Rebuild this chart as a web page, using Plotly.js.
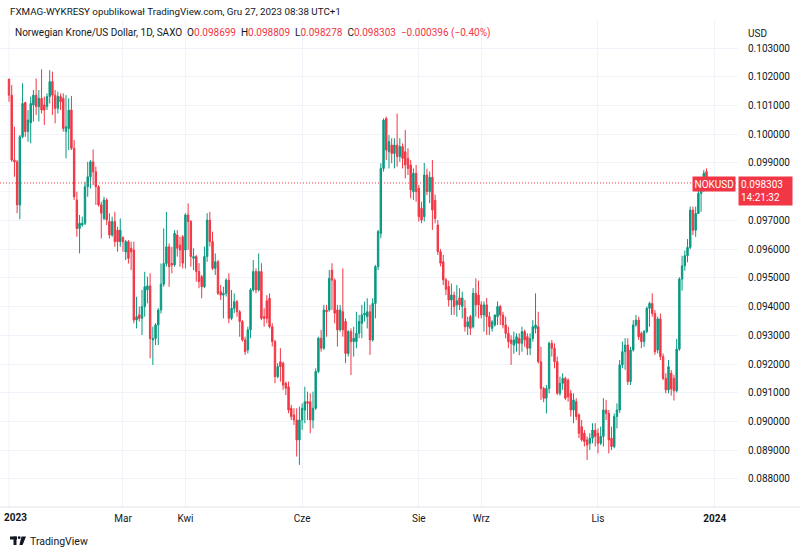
<!DOCTYPE html>
<html>
<head>
<meta charset="utf-8">
<script src="https://cdn.plot.ly/plotly-3.0.1.min.js"></script>
<style>
html,body{margin:0;padding:0;background:#ffffff;}
#chart{width:800px;height:553px;}
</style>
</head>
<body>
<div id="chart"></div>
<script>
// ---- DATA (NOK/USD daily, SAXO, 2023) ----
const firstDay = '2023-01-02';
const barCount = 258;

const openP = [
.10191,.10136,.09910,.09904,.09754,.09991,.10110,.10009,.10040,.10102,
.10136,.10096,.10125,.10102,.10096,.10131,.10183,.10136,.10090,.10131,
.10125,.10009,.10020,.10084,.09951,.09771,.09672,.09684,.09690,.09817,
.09852,.09904,.09869,.09817,.09754,.09707,.09771,.09696,.09649,.09696,
.09666,.09626,.09640,.09590,.09626,.09603,.09597,.09353,.09371,.09359,
.09400,.09458,.09472,.09284,.09289,.09336,.09388,.09478,.09550,.09608,
.09550,.09545,.09649,
.09614,.09643,.09597,.09719,.09696,.09568,.09574,
.09522,.09504,.09469,.09574,.09701,.09626,.09533,.09556,.09452,.09440,
.09446,.09492,.09359,.09394,.09417,.09382,.09348,.09284,.09249,.09319,
.09458,.09522,.09458,.09522,.09365,.09420,.09429,.09330,.09278,.09156,
.09208,.09203,.09133,.09121,.09046,.09023,.09005,.08936,.09005,.09040,
.09069,.09069,.09005,.09046,.09174,.09290,.09255,.09388,.09388,.09527,
.09492,.09388,.09319,.09382,.09348,.09237,.09313,.09278,
.09278,.09307,.09342,.09371,.09365,.09382,.09284,.09411,.09539,.09655,
.09881,.10055,.09939,.09962,.09933,.09962,.09922,.09957,.09939,.09916,
.09893,.09800,.09864,.09812,.09742,.09713,.09858,.09800,.09850,.09770,
.09684,.09591,.09556,.09493,.09470,.09423,.09440,.09406,.09430,.09400,
.09394,.09330,.09365,.09330,.09446,.09440,.09406,.09371,.09406,.09365,
.09324,.09336,.09365,.09400,.09371,.09336,.09307,.09284,.09266,.09272,
.09289,.09272,.09313,.09295,.09255,.09289,.09324,
.09330,.09208,.09115,.09081,.09115,.09272,.09255,.09208,.09098,.09133,
.09150,.09144,.09098,.09040,.09069,.09023,.08982,.08959,.08936,.08924,
.08942,.08970,.08959,.08924,.08948,.09040,.09028,.08942,.08913,.09017,
.09040,.09197,.09243,.09266,.09139,.09249,.09336,.09353,.09307,.09278,
.09313,.09394,.09411,.09376,.09249,.09357,.09226,.09150,.09110,.09168,
.09150,.09107,.09252,.09496,.09542,.09577,.09606,.09736,.09666,.09724,
.09794,.09806,.098699
];

const highP = [
.10194,.10171,.10026,.09910,.09997,.10177,.10113,.10084,.10131,.10154,
.10194,.10154,.10226,.10131,.10142,.10223,.10218,.10154,.10148,.10142,
.10142,.10136,.10125,.10133,.09980,.09800,.09719,.09713,.09835,.09904,
.09910,.09947,.09887,.09823,.09765,.09782,.09777,.09725,.09713,.09730,
.09678,.09707,.09645,.09632,.09632,.09626,.09626,.09434,.09400,.09458,
.09521,.09504,.09516,.09330,.09342,.09394,.09550,.09672,.09730,.09620,
.09608,.09666,.09666,
.09643,.09649,.09725,.09759,.09701,.09603,.09580,
.09551,.09510,.09609,.09725,.09730,.09661,.09585,.09562,.09475,.09469,
.09498,.09516,.09458,.09446,.09423,.09388,.09353,.09295,.09330,.09464,
.09562,.09533,.09585,.09551,.09394,.09440,.09446,.09342,.09284,.09203,
.09255,.09208,.09139,.09139,.09058,.09046,.09046,.09052,.09063,.09121,
.09104,.09098,.09104,.09185,.09295,.09319,.09406,.09406,.09527,.09551,
.09498,.09406,.09406,.09533,.09359,.09319,.09324,.09330,
.09382,.09371,.09406,.09417,.09429,.09406,.09429,.09545,.09667,.09899,
.10055,.10061,.09997,.09986,.09986,.10072,.09986,.09968,.10015,.09951,
.09910,.09881,.09893,.09823,.09765,.09900,.09880,.09870,.09910,.09790,
.09701,.09600,.09580,.09500,.09490,.09480,.09452,.09475,.09464,.09452,
.09423,.09365,.09371,.09464,.09498,.09490,.09418,.09418,.09430,.09382,
.09353,.09371,.09418,.09406,.09382,.09365,.09330,.09300,.09313,.09307,
.09307,.09330,.09320,.09307,.09307,.09353,.09446,
.09382,.09260,.09121,.09127,.09278,.09284,.09272,.09226,.09156,.09168,
.09156,.09150,.09110,.09098,.09081,.09028,.09005,.08970,.08948,.08959,
.08994,.08994,.08976,.08982,.09081,.09075,.09040,.08982,.09028,.09063,
.09214,.09278,.09290,.09290,.09260,.09353,.09371,.09365,.09313,.09319,
.09400,.09417,.09446,.09388,.09365,.09376,.09237,.09168,.09214,.09179,
.09162,.09287,.09502,.09577,.09595,.09635,.09748,.09748,.09748,.09805,
.09840,.09875,.098809
];

const lowP = [
.10113,.09904,.09852,.09725,.09704,.09986,.09991,.09974,.09968,.10044,
.10067,.10044,.10072,.10032,.10084,.10107,.10067,.10038,.10072,.10084,
.10009,.09916,.09945,.09945,.09771,.09643,.09585,.09678,.09684,.09782,
.09811,.09823,.09754,.09748,.09637,.09701,.09684,.09637,.09643,.09608,
.09591,.09608,.09591,.09562,.09550,.09527,.09342,.09324,.09348,.09301,
.09365,.09411,.09220,.09197,.09266,.09266,.09376,.09469,.09539,.09469,
.09516,.09539,.09574,
.09539,.09533,.09533,.09597,.09539,.09527,.09487,
.09464,.09429,.09464,.09556,.09609,.09527,.09510,.09440,.09423,.09359,
.09435,.09342,.09353,.09377,.09365,.09295,.09278,.09232,.09237,.09290,
.09452,.09446,.09452,.09353,.09330,.09342,.09324,.09261,.09133,.09150,
.09139,.09110,.09092,.09029,.09005,.08988,.08878,.08849,.08971,.08994,
.09005,.08959,.08976,.09040,.09168,.09243,.09249,.09295,.09382,.09388,
.09342,.09261,.09313,.09295,.09203,.09226,.09162,.09226,
.09255,.09290,.09290,.09348,.09324,.09232,.09278,.09359,.09527,.09638,
.09870,.09910,.09881,.09899,.09881,.09887,.09904,.09881,.09846,.09858,
.09777,.09771,.09765,.09696,.09690,.09696,.09788,.09760,.09667,.09690,
.09580,.09540,.09475,.09440,.09400,.09371,.09371,.09365,.09388,.09359,
.09313,.09301,.09301,.09324,.09365,.09359,.09359,.09313,.09301,.09301,
.09313,.09330,.09336,.09336,.09324,.09289,.09255,.09197,.09236,.09243,
.09231,.09243,.09260,.09231,.09231,.09278,.09307,
.09202,.09075,.09067,.09028,.09098,.09226,.09185,.09092,.09090,.09110,
.09075,.09069,.09017,.08994,.09005,.08942,.08930,.08913,.08866,.08901,
.08924,.08913,.08889,.08918,.08913,.09005,.08889,.08901,.08907,.08976,
.09030,.09185,.09180,.09127,.09127,.09243,.09330,.09284,.09255,.09260,
.09307,.09330,.09365,.09232,.09237,.09214,.09144,.09098,.09098,.09090,
.09073,.09101,.09246,.09455,.09525,.09554,.09600,.09649,.09643,.09724,
.09730,.09800,.098278
];

const closeP = [
.10136,.09910,.09904,.09754,.09991,.10107,.10009,.10049,.10107,.10136,
.10096,.10125,.10084,.10084,.10131,.10183,.10136,.10090,.10131,.10113,
.10020,.10026,.10084,.09951,.09782,.09672,.09690,.09690,.09817,.09852,
.09904,.09869,.09817,.09754,.09725,.09771,.09701,.09649,.09696,.09626,
.09626,.09666,.09626,.09626,.09568,.09591,.09353,.09365,.09359,.09400,
.09469,.09472,.09289,.09289,.09336,.09388,.09478,.09550,.09608,.09539,
.09545,.09655,.09603,
.09597,.09551,.09719,.09696,.09574,.09574,.09522,
.09487,.09469,.09574,.09701,.09626,.09533,.09556,.09446,.09440,.09446,
.09492,.09359,.09394,.09417,.09382,.09348,.09284,.09243,.09319,.09458,
.09522,.09458,.09522,.09359,.09359,.09359,.09330,.09278,.09156,.09191,
.09191,.09127,.09116,.09040,.09017,.09005,.08936,.09005,.09046,.09069,
.09063,.09005,.09046,.09174,.09290,.09255,.09388,.09382,.09498,.09492,
.09377,.09319,.09388,.09319,.09237,.09313,.09278,.09290,
.09307,.09348,.09371,.09377,.09382,.09284,.09411,.09539,.09661,.09881,
.10049,.09945,.09974,.09933,.09962,.09922,.09957,.09916,.09893,.09881,
.09806,.09864,.09800,.09713,.09701,.09858,.09800,.09850,.09736,.09707,
.09591,.09551,.09493,.09460,.09423,.09440,.09400,.09420,.09406,.09430,
.09330,.09347,.09324,.09446,.09406,.09406,.09371,.09406,.09365,.09330,
.09347,.09371,.09400,.09371,.09336,.09307,.09278,.09272,.09284,.09295,
.09272,.09313,.09284,.09255,.09289,.09330,.09336,
.09208,.09115,.09081,.09115,.09272,.09255,.09208,.09098,.09133,.09150,
.09081,.09086,.09040,.09075,.09017,.08959,.08936,.08930,.08918,.08942,
.08970,.08948,.08924,.08948,.09040,.09028,.08936,.08913,.09017,.09040,
.09197,.09243,.09266,.09139,.09249,.09336,.09353,.09295,.09278,.09313,
.09394,.09411,.09376,.09243,.09357,.09226,.09150,.09110,.09191,.09113,
.09107,.09252,.09496,.09542,.09577,.09606,.09736,.09666,.09724,.09794,
.09806,.09864,.098303
];

const tickDates  = ['2023-03-01','2023-04-03','2023-06-01','2023-08-01','2023-09-01','2023-11-01','2024-01-01'];
const tickLabels = ['Mar','Kwi','Cze','Sie','Wrz','Lis','<b>2024</b>'];
const yearStartLabel = '<b>2023</b>';
const priceTicks = [0.088,0.089,0.090,0.091,0.092,0.093,0.094,0.095,0.096,0.097,0.099,0.100,0.101,0.102,0.103];
const lastPrice = 0.098303;

// ---- build business-day dates (categories) ----
function businessDays(start, n){
  const out = [];
  const d = new Date(start + 'T00:00:00Z');
  while(out.length < n){
    const wd = d.getUTCDay();
    if(wd !== 0 && wd !== 6) out.push(d.toISOString().slice(0,10));
    d.setUTCDate(d.getUTCDate()+1);
  }
  return out;
}
const dates = businessDays(firstDay, barCount);

// ---- layout helpers (pixel -> paper) ----
const PL = 0, PR = 738, PT = 20, PB = 507;
const px = x => (x - PL) / (PR - PL);
const py = y => (PB - y) / (PB - PT);

const UP = '#089981', DOWN = '#f23645', TXT = '#131722', GRID = '#f0f3fa';
const FONT = 'Roboto, "Liberation Sans", sans-serif';

const trace = {
  type: 'candlestick',
  x: dates, open: openP, high: highP, low: lowP, close: closeP,
  increasing: {line: {color: UP, width: 1}, fillcolor: UP},
  decreasing: {line: {color: DOWN, width: 1}, fillcolor: DOWN},
  whiskerwidth: 0,
  hoverinfo: 'skip',
  showlegend: false
};

const red = s => '<span style="color:' + DOWN + '">' + s + '</span>';

const layout = {
  width: 800, height: 553,
  margin: {l: PL, r: 800 - PR, t: PT, b: 553 - PB, pad: 0},
  paper_bgcolor: '#ffffff', plot_bgcolor: '#ffffff',
  font: {family: FONT, size: 10, color: TXT},
  showlegend: false,
  boxgap: 0.25,
  xaxis: {
    type: 'date',
    range: ['2022-12-27 16:25', '2024-01-11 14:24'],
    rangebreaks: [{bounds: ['sat', 'mon']}],
    rangeslider: {visible: false},
    tickmode: 'array', tickvals: tickDates, ticktext: tickLabels,
    showgrid: true, gridcolor: GRID, gridwidth: 1,
    zeroline: false, ticks: '',
    showline: false,
    tickfont: {family: FONT, size: 10, color: TXT},
    ticklabelstandoff: 4,
    fixedrange: true
  },
  yaxis: {
    side: 'right',
    range: [0.087024, 0.103975],
    tickmode: 'array', tickvals: priceTicks, tickformat: '.6f',
    showgrid: true, gridcolor: GRID, gridwidth: 1,
    zeroline: false, ticks: '', showline: false,
    tickfont: {family: FONT, size: 10, color: TXT},
    ticklabelstandoff: 9,
    fixedrange: true
  },
  shapes: [
    {type: 'line', xref: 'paper', yref: 'y', x0: 0, x1: 1, y0: 0.098, y1: 0.098,
     line: {color: GRID, width: 1}, layer: 'below'},
    {type: 'line', xref: 'x', yref: 'paper', x0: '2023-01-02', x1: '2023-01-02', y0: 0, y1: 1,
     line: {color: GRID, width: 1}, layer: 'below'},
    {type: 'line', xref: 'paper', yref: 'y', x0: 0, x1: 1, y0: lastPrice, y1: lastPrice,
     line: {color: DOWN, width: 1, dash: '1px,2px'}},
    {type: 'line', xref: 'paper', yref: 'paper', x0: px(0), x1: px(800), y0: py(507), y1: py(507),
     line: {color: '#e0e3eb', width: 1}},
    // TradingView logo glyph
    {type: 'rect', xref: 'paper', yref: 'paper', x0: px(10), x1: px(17), y0: py(536.5), y1: py(539.5),
     fillcolor: TXT, line: {width: 0}},
    {type: 'rect', xref: 'paper', yref: 'paper', x0: px(13.5), x1: px(16.5), y0: py(536.5), y1: py(545),
     fillcolor: TXT, line: {width: 0}},
    {type: 'circle', xref: 'paper', yref: 'paper', x0: px(17.8), x1: px(20.6), y0: py(536.3), y1: py(539.1),
     fillcolor: TXT, line: {width: 0}},
    {type: 'path', xref: 'paper', yref: 'paper',
     path: 'M ' + px(21.5) + ' ' + py(536.5) + ' L ' + px(26) + ' ' + py(536.5) + ' L ' + px(22.6) + ' ' + py(545) +
           ' L ' + px(19.4) + ' ' + py(545) + ' Z',
     fillcolor: TXT, line: {width: 0}}
  ],
  annotations: [
    {xref: 'paper', yref: 'paper', x: px(8), y: py(12), xanchor: 'left', yanchor: 'middle', showarrow: false,
     text: 'FXMAG-WYKRESY opublikował TradingView.com, Gru 27, 2023 08:38 UTC+1',
     font: {family: FONT, size: 9.8, color: TXT}},
    {xref: 'paper', yref: 'paper', x: px(13), y: py(33), xanchor: 'left', yanchor: 'middle', showarrow: false,
     text: 'Norwegian Krone/US Dollar, 1D, SAXO&nbsp;&nbsp;O' + red('0.098699') + '&nbsp;&nbsp;H' + red('0.098809') +
           '&nbsp;&nbsp;L' + red('0.098278') + '&nbsp;&nbsp;C' + red('0.098303') + '&nbsp;&nbsp;' + red('−0.000396 (−0.40%)'),
     font: {family: FONT, size: 10, color: TXT}},
    {xref: 'paper', yref: 'paper', x: px(746), y: py(33), xanchor: 'left', yanchor: 'middle', showarrow: false,
     text: 'USD', font: {family: FONT, size: 10, color: TXT}},
    {xref: 'paper', yref: 'paper', x: px(2), y: py(517), xanchor: 'left', yanchor: 'middle', showarrow: false,
     text: yearStartLabel, font: {family: FONT, size: 10, color: TXT}},
    {xref: 'paper', yref: 'paper', x: px(736), y: py(184), xanchor: 'right', yanchor: 'middle', showarrow: false,
     text: 'NOKUSD', bgcolor: DOWN, borderpad: 1.5, font: {family: FONT, size: 10, color: '#ffffff'}},
    {xref: 'paper', yref: 'paper', x: px(738), y: py(176), xanchor: 'left', yanchor: 'top', showarrow: false,
     text: '0.098303<br>14:21:32', align: 'left', width: 49, bgcolor: DOWN, borderpad: 2,
     font: {family: FONT, size: 10, color: '#ffffff'}},
    {xref: 'paper', yref: 'paper', x: px(28), y: py(541), xanchor: 'left', yanchor: 'middle', showarrow: false,
     text: 'TradingView', font: {family: FONT, size: 10.5, color: TXT}}
  ]
};

Plotly.newPlot('chart', [trace], layout, {displayModeBar: false, staticPlot: true});
</script>
</body>
</html>
